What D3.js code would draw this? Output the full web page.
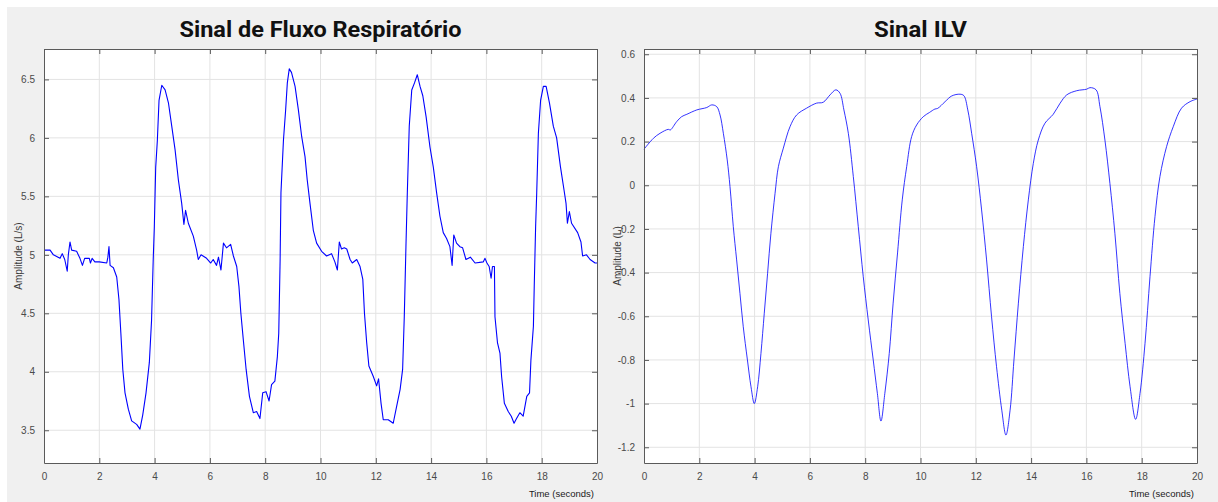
<!DOCTYPE html>
<html>
<head>
<meta charset="utf-8">
<script src="https://cdn.jsdelivr.net/npm/d3@7"></script>
<style>
  body { margin: 0; background: #fff; }
  svg { display: block; }
  .tick text { font-family: "Liberation Sans", Arial, sans-serif; font-size: 10px; fill: #4a4a4a; }
</style>
</head>
<body>
<svg id="chart" width="1218" height="502"></svg>
<script>
// flow signal (L/s)
var flowTime = [0, 0.22, 0.34, 0.58, 0.66, 0.75, 0.84, 0.88, 0.94, 1.0, 1.18, 1.3, 1.39, 1.47, 1.64, 1.68, 1.74, 1.84, 2.0, 2.27, 2.31, 2.35, 2.39, 2.51, 2.63, 2.71, 2.78, 2.85, 2.93, 3.05, 3.17, 3.35, 3.47, 3.57, 3.69, 3.81, 3.89, 3.95, 3.99, 4.04, 4.10, 4.16, 4.26, 4.38, 4.50, 4.62, 4.74, 4.86, 4.98, 5.06, 5.12, 5.22, 5.40, 5.52, 5.58, 5.68, 5.88, 6.03, 6.12, 6.24, 6.31, 6.40, 6.49, 6.60, 6.75, 6.85, 6.97, 7.05, 7.12, 7.21, 7.31, 7.43, 7.57, 7.69, 7.81, 7.91, 8.03, 8.14, 8.23, 8.35, 8.44, 8.49, 8.54, 8.57, 8.66, 8.74, 8.80, 8.87, 8.95, 9.08, 9.20, 9.32, 9.44, 9.52, 9.62, 9.74, 9.86, 10.04, 10.22, 10.40, 10.52, 10.61, 10.68, 10.76, 10.86, 10.95, 11.07, 11.15, 11.31, 11.43, 11.53, 11.59, 11.67, 11.75, 11.91, 12.03, 12.10, 12.19, 12.27, 12.45, 12.63, 12.75, 12.88, 12.97, 13.03, 13.09, 13.14, 13.21, 13.30, 13.40, 13.50, 13.60, 13.70, 13.82, 13.96, 14.08, 14.20, 14.32, 14.44, 14.56, 14.68, 14.76, 14.82, 14.92, 15.04, 15.14, 15.26, 15.42, 15.59, 15.89, 15.95, 16.02, 16.10, 16.17, 16.22, 16.29, 16.31, 16.40, 16.49, 16.55, 16.65, 16.79, 16.90, 17.00, 17.09, 17.21, 17.33, 17.46, 17.56, 17.61, 17.70, 17.73, 17.78, 17.82, 17.88, 17.96, 18.06, 18.16, 18.28, 18.42, 18.54, 18.68, 18.81, 18.88, 18.93, 19.00, 19.08, 19.30, 19.42, 19.48, 19.62, 19.75, 19.93, 20.0];
var flowValue = [5.04, 5.04, 5.00, 4.97, 5.01, 4.96, 4.86, 5.00, 5.11, 5.04, 5.03, 4.97, 4.91, 4.97, 4.97, 4.93, 4.97, 4.94, 4.94, 4.93, 4.98, 5.07, 4.91, 4.89, 4.81, 4.62, 4.33, 4.02, 3.82, 3.68, 3.58, 3.55, 3.51, 3.63, 3.82, 4.08, 4.44, 4.96, 5.24, 5.75, 5.98, 6.32, 6.45, 6.41, 6.30, 6.10, 5.90, 5.64, 5.44, 5.26, 5.38, 5.27, 5.16, 5.04, 4.96, 5.00, 4.97, 4.93, 4.96, 4.91, 4.98, 4.87, 5.10, 5.06, 5.09, 4.99, 4.90, 4.73, 4.50, 4.27, 4.02, 3.79, 3.65, 3.66, 3.60, 3.82, 3.83, 3.75, 3.89, 3.92, 4.13, 4.33, 4.96, 5.53, 5.98, 6.24, 6.47, 6.59, 6.56, 6.44, 6.24, 6.01, 5.84, 5.64, 5.44, 5.21, 5.10, 5.03, 4.99, 5.01, 4.94, 4.87, 5.11, 5.05, 5.06, 5.05, 4.96, 4.93, 4.96, 4.90, 4.79, 4.50, 4.25, 4.05, 3.96, 3.88, 3.94, 3.73, 3.59, 3.59, 3.56, 3.70, 3.85, 4.02, 4.47, 5.07, 5.53, 6.10, 6.41, 6.47, 6.54, 6.44, 6.36, 6.18, 5.92, 5.75, 5.53, 5.33, 5.19, 5.14, 5.07, 4.91, 5.17, 5.10, 5.07, 5.06, 4.96, 4.98, 4.93, 4.94, 4.97, 4.93, 4.90, 4.80, 4.90, 4.90, 4.47, 4.25, 4.16, 3.96, 3.73, 3.66, 3.62, 3.56, 3.60, 3.65, 3.62, 3.79, 3.82, 4.10, 4.39, 4.73, 5.24, 5.53, 6.04, 6.32, 6.44, 6.44, 6.30, 6.10, 6.00, 5.75, 5.55, 5.44, 5.27, 5.37, 5.27, 5.19, 5.11, 4.99, 5.00, 4.96, 4.93, 4.93];

// ILV signal (L)
var ilvTime = [0, 0.34, 0.58, 0.88, 0.95, 1.18, 1.36, 1.55, 1.91, 2.27, 2.45, 2.63, 2.75, 2.87, 3.01, 3.11, 3.23, 3.35, 3.47, 3.59, 3.74, 3.87, 3.99, 4.11, 4.23, 4.35, 4.47, 4.59, 4.74, 4.86, 5.04, 5.28, 5.52, 5.88, 6.24, 6.48, 6.73, 6.94, 7.09, 7.23, 7.39, 7.57, 7.75, 7.93, 8.11, 8.29, 8.44, 8.57, 8.71, 8.87, 9.01, 9.17, 9.34, 9.50, 9.68, 9.86, 10.10, 10.32, 10.52, 10.62, 10.89, 11.13, 11.43, 11.57, 11.71, 11.85, 12.03, 12.21, 12.39, 12.57, 12.75, 12.94, 13.09, 13.24, 13.38, 13.54, 13.72, 13.90, 14.08, 14.26, 14.50, 14.80, 15.05, 15.29, 15.65, 16.01, 16.13, 16.35, 16.49, 16.67, 16.85, 17.03, 17.21, 17.40, 17.58, 17.78, 17.94, 18.12, 18.30, 18.48, 18.66, 18.90, 19.14, 19.44, 19.75, 20.0];
var ilvValue = [0.165, 0.215, 0.238, 0.256, 0.253, 0.291, 0.314, 0.325, 0.345, 0.356, 0.368, 0.36, 0.322, 0.238, 0.116, -0.006, -0.19, -0.342, -0.495, -0.648, -0.80, -0.923, -1.0, -0.923, -0.77, -0.586, -0.403, -0.22, -0.037, 0.085, 0.17, 0.268, 0.322, 0.353, 0.376, 0.38, 0.414, 0.437, 0.421, 0.345, 0.238, 0.04, -0.19, -0.419, -0.617, -0.80, -0.953, -1.08, -0.953, -0.77, -0.54, -0.31, -0.067, 0.085, 0.223, 0.276, 0.314, 0.333, 0.349, 0.352, 0.383, 0.409, 0.417, 0.41, 0.345, 0.238, 0.085, -0.113, -0.342, -0.602, -0.831, -1.03, -1.144, -1.03, -0.80, -0.54, -0.281, -0.067, 0.10, 0.207, 0.284, 0.325, 0.376, 0.414, 0.433, 0.44, 0.447, 0.437, 0.36, 0.207, 0.009, -0.22, -0.495, -0.724, -0.923, -1.072, -0.953, -0.724, -0.419, -0.144, 0.04, 0.177, 0.268, 0.353, 0.383, 0.395];

var xTicks = [0, 2, 4, 6, 8, 10, 12, 14, 16, 18, 20];
var flowTicks = [3.5, 4, 4.5, 5, 5.5, 6, 6.5];
var ilvTicks = [-1.2, -1, -0.8, -0.6, -0.4, -0.2, 0, 0.2, 0.4, 0.6];

var svg = d3.select("#chart");

// figure background
svg.append("rect")
    .attr("x", 7).attr("y", 7)
    .attr("width", 1211).attr("height", 495)
    .attr("fill", "#f0f0f0");

// plain hyphen for negatives, like the plotting tool does
function tickLabel(d) {
    return String(+d.toFixed(1));
}

function drawPanel(opt) {
    var x = d3.scaleLinear().domain([0, 20]).range([opt.left, opt.right]);
    var y = d3.scaleLinear().domain(opt.yDomain).range([opt.bottom, opt.top]);
    var g = svg.append("g");

    g.append("rect")
        .attr("x", opt.left).attr("y", opt.top)
        .attr("width", opt.right - opt.left).attr("height", opt.bottom - opt.top)
        .attr("fill", "#fff");

    // grid
    g.append("g").selectAll("line").data(xTicks.slice(1, -1)).enter().append("line")
        .attr("x1", d => x(d)).attr("x2", d => x(d))
        .attr("y1", opt.top).attr("y2", opt.bottom)
        .attr("stroke", "#e3e3e3").attr("stroke-width", 1);
    g.append("g").selectAll("line").data(opt.yTicks).enter().append("line")
        .attr("x1", opt.left).attr("x2", opt.right)
        .attr("y1", d => y(d)).attr("y2", d => y(d))
        .attr("stroke", "#e3e3e3").attr("stroke-width", 1);

    var line = d3.line()
        .x((d, i) => x(opt.t[i]))
        .y(d => y(d))
        .curve(opt.curve);
    g.append("path")
        .datum(opt.v)
        .attr("d", line)
        .attr("fill", "none")
        .attr("stroke", "#0000ff")
        .attr("stroke-width", opt.lineWidth)
        .attr("stroke-linejoin", "round");

    // axes with inward ticks on all four sides
    var bottomAxis = d3.axisBottom(x).tickValues(xTicks).tickSizeInner(-5).tickSizeOuter(0).tickPadding(10).tickFormat(d3.format("d"));
    var topAxis = d3.axisTop(x).tickValues(xTicks).tickSizeInner(-5).tickSizeOuter(0).tickFormat("");
    var leftAxis = d3.axisLeft(y).tickValues(opt.yTicks).tickSizeInner(-5).tickSizeOuter(0).tickPadding(9).tickFormat(tickLabel);
    var rightAxis = d3.axisRight(y).tickValues(opt.yTicks).tickSizeInner(-5).tickSizeOuter(0).tickFormat("");

    [[bottomAxis, "translate(0," + opt.bottom + ")"],
     [topAxis, "translate(0," + opt.top + ")"],
     [leftAxis, "translate(" + opt.left + ",0)"],
     [rightAxis, "translate(" + opt.right + ",0)"]].forEach(function(a) {
        var ag = g.append("g").attr("transform", a[1]).call(a[0]);
        ag.select(".domain").attr("stroke", "#5a5a5a");
        ag.selectAll(".tick line").attr("stroke", "#5a5a5a");
    });

    g.append("text")
        .attr("x", (opt.left + opt.right) / 2)
        .attr("y", 37)
        .attr("text-anchor", "middle")
        .attr("textLength", opt.titleWidth)
        .attr("lengthAdjust", "spacingAndGlyphs")
        .style("font-family", "Roboto, 'DejaVu Sans', sans-serif")
        .style("font-weight", "bold")
        .style("font-size", "22px")
        .style("fill", "#111")
        .text(opt.title);

    g.append("text")
        .attr("transform", "translate(" + opt.yLabelX + "," + ((opt.top + opt.bottom) / 2) + ") rotate(-90)")
        .attr("text-anchor", "middle")
        .style("font-family", "'Liberation Sans', Arial, sans-serif")
        .style("font-size", "10px")
        .style("fill", "#3a3a3a")
        .text(opt.yLabel);

    g.append("text")
        .attr("x", opt.right - 3)
        .attr("y", 497)
        .attr("text-anchor", "end")
        .style("font-family", "'Liberation Sans', Arial, sans-serif")
        .style("font-size", "9.5px")
        .style("fill", "#1a1a1a")
        .text("Time (seconds)");
}

drawPanel({
    left: 44, right: 597, top: 49, bottom: 463,
    yDomain: [3.22, 6.76], yTicks: flowTicks,
    t: flowTime, v: flowValue, lineWidth: 1.1, curve: d3.curveLinear,
    title: "Sinal de Fluxo Respiratório", titleWidth: 282,
    yLabel: "Amplitude (L/s)", yLabelX: 22
});

drawPanel({
    left: 644, right: 1197, top: 49, bottom: 463,
    yDomain: [-1.272, 0.624], yTicks: ilvTicks,
    t: ilvTime, v: ilvValue, lineWidth: 0.8, curve: d3.curveCatmullRom.alpha(0.5),
    title: "Sinal ILV", titleWidth: 93,
    yLabel: "Amplitude (L)", yLabelX: 621
});
</script>
</body>
</html>
